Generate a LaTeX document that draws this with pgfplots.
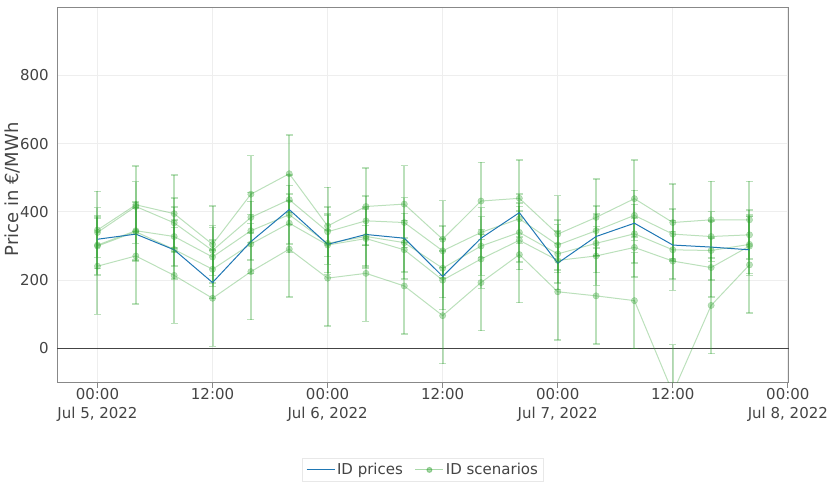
\documentclass[border=0pt]{standalone}
\usepackage{pgfplots}
\pgfplotsset{compat=1.18}
\usepackage{pgfplotstable}
\usepackage{fontspec}
\setmainfont{DejaVu Sans}
\definecolor{scen}{HTML}{2CA02C}
\definecolor{idblue}{HTML}{1F77B4}
\definecolor{gridc}{HTML}{EEEEEE}
\definecolor{spine}{HTML}{888888}
\definecolor{textc}{HTML}{444444}
\definecolor{zeroc}{HTML}{444444}
\definecolor{legc}{HTML}{E8E8E8}
\newcommand{\tickfont}{\fontsize{15}{19}\selectfont}
\newcommand{\titlefont}{\fontsize{18}{21}\selectfont}

\pgfplotstableread{
h  A   eA  B   eB  C   eC  D   eD  E    eE  P
0  347 113 340 73  303 86  300 86  241  141 320
4  421 113 416 73  345 86  342 86  271  141 335
8  395 113 368 73  328 86  290 86  214  141 289
12 305 113 287 73  268 86  232 86  147  141 193
16 452 113 384 73  345 86  306 86  225  141 313
20 512 113 436 73  392 86  367 86  291  141 407
24 359 113 342 73  308 86  303 86  206  141 305
28 416 113 374 73  328 86  322 86  220  141 334
32 423 113 369 73  310 86  289 86  183  141 323
36 320 113 286 73  235 86  200 86  96   141 211
40 432 113 340 73  300 86  262 86  193  141 323
44 440 113 380 73  340 86  317 86  275  141 398
48 335 113 303 73  277 86  258 86  166  141 250
52 384 113 345 73  308 86  271 86  154  141 328
56 439 113 390 73  336 86  296 86  140  141 367
60 369 113 335 73  289 86  256 86  -130 141 303
64 377 113 328 73  287 86  237 86  126  141 297
68 377 113 333 73  305 86  300 86  245  141 289
}\datatab

\pgfplotsset{
  scenplot/.style={forget plot, color=scen, draw opacity=0.32, fill opacity=0.32, line width=1pt,
    mark=*, mark size=3.2pt, mark options={draw=scen, fill=scen, line width=0.4pt, draw opacity=0.32, fill opacity=0.32},
    error bars/.cd, y dir=both, y explicit,
    error bar style={line width=2pt, color=scen, draw opacity=0.32},
    error mark options={rotate=90, mark size=3.5pt, line width=1.5pt, color=scen, draw opacity=0.32},
    /pgfplots/.cd},
}

\begin{document}
\begin{tikzpicture}
\useasboundingbox (-57.2pt,-115.5pt) rectangle (772.8pt,382.5pt);
\begin{axis}[
  scale only axis, width=731.6pt, height=375.2pt,
  xmin=-4.2, xmax=72.1, ymin=-100, ymax=1000,
  xtick={0,12,...,72},
  xticklabels={{00:00\\Jul 5, 2022},12:00,{00:00\\Jul 6, 2022},12:00,{00:00\\Jul 7, 2022},12:00,{00:00\\Jul 8, 2022}},
  xticklabel style={align=center, font=\tickfont, text=textc, yshift=3pt},
  ytick={0,200,...,800},
  yticklabel style={font=\tickfont, text=textc},
  /pgf/number format/assume math mode=true,
  grid=major, major grid style={gridc, line width=1pt},
  axis line style={spine, line width=1.3pt},
  tick align=outside, major tick length=5pt,
  xtick style={spine, line width=1pt},
  ytick style={draw=none},
  xtick pos=bottom,
  ylabel={Price in €/MWh},
  ylabel style={font=\titlefont, text=textc, at={(axis description cs:-0.0615,0.515)}, anchor=center},
  legend image code/.code={\draw[mark repeat=2,mark phase=2,#1] plot coordinates {(0pt,0pt) (14pt,0pt) (28pt,0pt)};},
  legend style={at={(0.5,-0.233)}, anchor=center, legend columns=2, draw=legc, line width=1pt,
    font=\tickfont, text=textc, inner xsep=4pt, inner ysep=3pt,
    /tikz/every even column/.append style={column sep=10pt}},
]
\addplot[zeroc, line width=1pt, forget plot] coordinates {(-4.2,0) (72.1,0)};
\addplot[scenplot] table[x=h, y=A, y error=eA] {\datatab};
\addplot[scenplot] table[x=h, y=B, y error=eB] {\datatab};
\addplot[scenplot] table[x=h, y=C, y error=eC] {\datatab};
\addplot[scenplot] table[x=h, y=D, y error=eD] {\datatab};
\addplot[scenplot] table[x=h, y=E, y error=eE] {\datatab};
\addplot[idblue, line width=1pt, mark=none] table[x=h, y=P] {\datatab};
\addlegendentry{ID prices}
\addlegendimage{color=scen, draw opacity=0.4, line width=1pt, mark=*, mark size=2.5pt, mark options={fill=scen, draw=scen, fill opacity=0.4, draw opacity=0.4}}
\addlegendentry{ID scenarios}
\end{axis}
\end{tikzpicture}
\end{document}
